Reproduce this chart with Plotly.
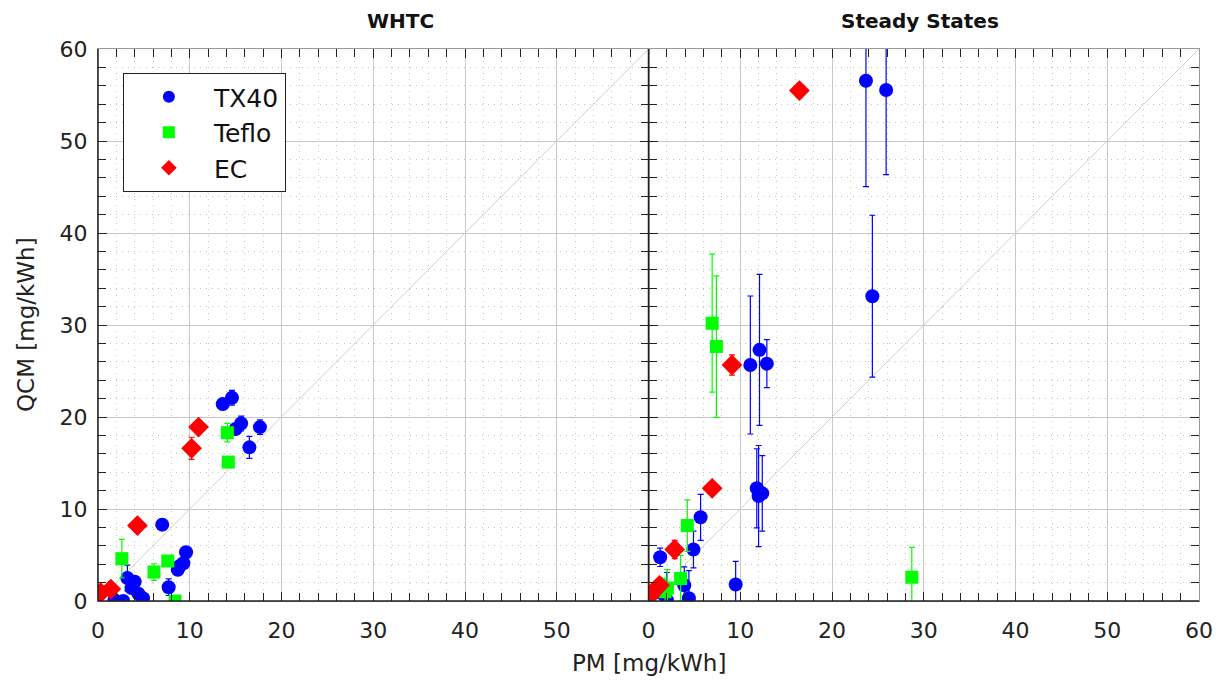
import plotly.graph_objects as go

# ---------------- WHTC panel data ----------------
whtc_tx40_pm = [13.6, 14.6, 15.6, 15.0, 17.65, 16.5, 7.0, 9.6, 9.3, 8.7, 8.9, 7.7, 3.2, 4.0, 3.65, 4.4, 4.9, 1.8, 2.75]
whtc_tx40_qcm = [21.4, 22.1, 19.3, 18.7, 18.9, 16.7, 8.3, 5.3, 4.1, 3.4, 3.8, 1.5, 2.5, 2.1, 1.4, 0.8, 0.3, 0.1, 0.0]
whtc_tx40_err = [0.6, 0.8, 0.8, 0.5, 0.8, 1.2, 0.6, 0.6, 0.4, 0.4, 0.4, 0.9, 1.4, 0.5, 0.5, 0.4, 0.3, 0.3, 0.3]

whtc_teflo_pm = [14.1, 14.2, 2.6, 6.1, 7.6, 8.4]
whtc_teflo_qcm = [18.3, 15.1, 4.6, 3.15, 4.35, 0.0]
whtc_teflo_err = [1.0, 0.5, 2.1, 0.9, 0.5, 0.3]

whtc_ec_pm = [10.96, 10.2, 4.3, 0.3, 1.4]
whtc_ec_qcm = [18.9, 16.6, 8.2, 0.9, 1.3]
whtc_ec_err = [0.6, 1.2, 0.4, 0.4, 0.3]

# ---------------- Steady States panel data ----------------
ss_tx40_pm = [1.27, 5.68, 4.9, 3.9, 4.4, 2.0, 1.5, 9.5, 11.1, 12.1, 12.9, 11.8, 12.0, 12.4, 23.7, 25.9, 24.4]
ss_tx40_qcm = [4.75, 9.1, 5.6, 1.7, 0.3, 0.1, 0.8, 1.8, 25.65, 27.3, 25.8, 12.25, 11.4, 11.7, 56.55, 55.55, 33.13]
ss_tx40_err = [1.0, 2.5, 2.0, 2.0, 3.0, 3.0, 1.5, 2.5, 7.5, 8.2, 2.6, 4.3, 5.5, 4.1, 11.5, 9.2, 8.8]

ss_teflo_pm = [6.94, 7.4, 4.23, 3.5, 2.06, 1.8, 28.7]
ss_teflo_qcm = [30.2, 27.65, 8.2, 2.45, 1.4, 1.0, 2.58]
ss_teflo_err = [7.5, 7.7, 2.8, 2.5, 2.0, 1.5, 3.25]

ss_ec_pm = [16.45, 9.1, 6.94, 2.85, 1.2, 0.7, 0.2]
ss_ec_qcm = [55.48, 25.65, 12.25, 5.6, 1.7, 1.2, 0.6]
ss_ec_err = [0.7, 1.1, 0.6, 1.0, 0.5, 0.4, 0.4]

identity_line = [0, 60]
panel_titles = ["WHTC", "Steady States"]
x_tickvals = [0, 10, 20, 30, 40, 50, 60]
left_ticktext = ["0", "10", "20", "30", "40", "50", ""]
right_ticktext = ["0", "10", "20", "30", "40", "50", "60"]

BLUE, GREEN, RED = "#0000ff", "#00ff00", "#ff0000"
FONT = "DejaVu Sans, Arial, sans-serif"

fig = go.Figure()

for xa, ya in (("x", "y"), ("x2", "y2")):
    fig.add_trace(go.Scatter(x=identity_line, y=identity_line, mode="lines",
                             line=dict(color="#cfcfcf", width=1), showlegend=False,
                             hoverinfo="skip", xaxis=xa, yaxis=ya))


def add(x, y, err, color, symbol, size, name, xa, ya, show):
    fig.add_trace(go.Scatter(
        x=x, y=y, mode="markers", name=name, legendgroup=name, showlegend=show,
        marker=dict(color=color, symbol=symbol, size=size, line=dict(width=0)),
        error_y=dict(type="data", array=err, visible=True, color=color, thickness=1.2, width=3),
        xaxis=xa, yaxis=ya))


add(whtc_tx40_pm, whtc_tx40_qcm, whtc_tx40_err, BLUE, "circle", 14, "TX40", "x", "y", True)
add(whtc_teflo_pm, whtc_teflo_qcm, whtc_teflo_err, GREEN, "square", 13, "Teflo", "x", "y", True)
add(whtc_ec_pm, whtc_ec_qcm, whtc_ec_err, RED, "diamond", 16, "EC", "x", "y", True)
add(ss_tx40_pm, ss_tx40_qcm, ss_tx40_err, BLUE, "circle", 14, "TX40", "x2", "y2", False)
add(ss_teflo_pm, ss_teflo_qcm, ss_teflo_err, GREEN, "square", 13, "Teflo", "x2", "y2", False)
add(ss_ec_pm, ss_ec_qcm, ss_ec_err, RED, "diamond", 16, "EC", "x2", "y2", False)

minor = dict(dtick=2, ticks="inside", ticklen=8, tickcolor="#222", showgrid=True,
             gridcolor="#c4c4c4", griddash="1px,5px", gridwidth=1)
common = dict(showline=True, linecolor="#9a9a9a", linewidth=1, mirror="allticks",
              ticks="inside", ticklen=9, tickcolor="#222", showgrid=True, gridcolor="#c8c8c8",
              gridwidth=1, zeroline=False, tickfont=dict(family=FONT, size=22, color="#222"),
              minor=minor)

fig.update_layout(
    width=1225, height=681,
    margin=dict(l=98, r=21, t=49, b=80),
    paper_bgcolor="white", plot_bgcolor="white",
    xaxis=dict(domain=[0, 0.5], anchor="y", range=[0, 60], tickvals=x_tickvals,
               ticktext=left_ticktext, ticklabelstandoff=10, **common),
    xaxis2=dict(domain=[0.5, 1], anchor="y2", range=[0, 60], tickvals=x_tickvals,
                ticktext=right_ticktext, ticklabelstandoff=10, **common),
    yaxis=dict(domain=[0, 1], anchor="x", range=[0, 60], dtick=10, ticklabelstandoff=5, **common),
    yaxis2=dict(domain=[0, 1], anchor="x2", dtick=10, matches="y", showticklabels=False, **common),
    showlegend=True,
    legend=dict(x=0.0226, y=0.9565, xanchor="left", yanchor="top", bgcolor="white",
                bordercolor="#222", borderwidth=1, font=dict(family=FONT, size=25, color="#111"),
                itemwidth=80, itemsizing="constant", tracegroupgap=0),
    shapes=[
        dict(type="line", xref="paper", yref="paper", x0=0, x1=0, y0=0, y1=1,
             line=dict(color="#222", width=1.5)),
        dict(type="line", xref="paper", yref="paper", x0=0.5, x1=0.5, y0=0, y1=1,
             line=dict(color="#222", width=1.5)),
        dict(type="line", xref="paper", yref="paper", x0=0, x1=1, y0=0, y1=0,
             line=dict(color="#222", width=1.5)),
    ],
    annotations=[
        dict(text=f"<b>{panel_titles[0]}</b>", x=0.2749, y=1, xref="paper", yref="paper",
             xanchor="center", yanchor="middle", yshift=28, showarrow=False,
             font=dict(family=FONT, size=20, color="#111")),
        dict(text=f"<b>{panel_titles[1]}</b>", x=0.7468, y=1, xref="paper", yref="paper",
             xanchor="center", yanchor="middle", yshift=28, showarrow=False,
             font=dict(family=FONT, size=20, color="#111")),
        dict(text="PM [mg/kWh]", x=0.5, y=0, xref="paper", yref="paper", xanchor="center",
             yanchor="middle", yshift=-62, showarrow=False,
             font=dict(family=FONT, size=23, color="#222")),
        dict(text="QCM [mg/kWh]", x=0, y=0.5, xref="paper", yref="paper", xanchor="center",
             yanchor="middle", xshift=-72, textangle=-90, showarrow=False,
             font=dict(family=FONT, size=23, color="#222")),
    ],
)

fig.write_html("out.html")
